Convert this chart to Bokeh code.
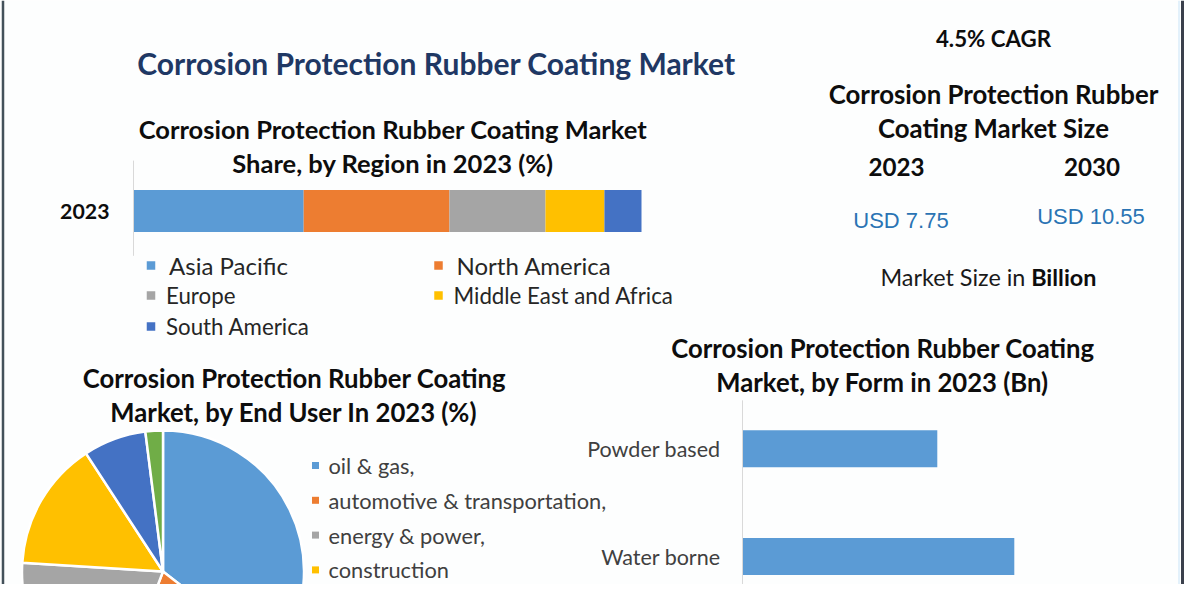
import math
from bokeh.plotting import figure
from bokeh.models import Range1d, ColumnDataSource
from bokeh.embed import file_html
from bokeh.resources import INLINE
from bokeh.core.properties import value

# ---------------- data ----------------
main_title = "Corrosion Protection Rubber Coating Market"

region_title = ["Corrosion Protection Rubber Coating Market", "Share, by Region in 2023 (%)"]
region_year = "2023"
region_names = ["Asia Pacific", "North America", "Europe", "Middle East and Africa", "South America"]
region_share = [33.5, 28.7, 18.9, 11.6, 7.3]
region_colors = ["#5b9bd5", "#ed7d31", "#a5a5a5", "#ffc000", "#4472c4"]

enduser_title = ["Corrosion Protection Rubber Coating", "Market, by End User In 2023 (%)"]
enduser_names = ["oil & gas,", "automotive & transportation,", "energy & power,", "construction"]
enduser_share = [35.5, 20.3, 20.2, 14.8, 7.2, 2.0]
enduser_colors = ["#5b9bd5", "#ed7d31", "#a5a5a5", "#ffc000", "#4472c4", "#70ad47"]

form_title = ["Corrosion Protection Rubber Coating", "Market, by Form in 2023 (Bn)"]
form_names = ["Powder based", "Water borne"]
form_values = [2.15, 3.0]

cagr_label = "4.5% CAGR"
size_title = ["Corrosion Protection Rubber", "Coating Market Size"]
size_years = ["2023", "2030"]
size_values = [7.75, 10.55]
size_unit = ["Market Size in ", "Billion"]

# ---------------- canvas ----------------
W, H = 1184, 584
FONT = "Lato"
BG = "#fdfefe"

p = figure(width=W, height=H, x_range=Range1d(0, W), y_range=Range1d(H, 0),
           output_backend="svg", toolbar_location=None, min_border=0,
           x_axis_location=None, y_axis_location=None)
p.grid.visible = False
p.outline_line_color = None
p.background_fill_color = BG
p.border_fill_color = BG


def fit(v0, p0, v1, p1, size):
    k = (p1 - p0) / (v1 - v0)
    s = v0 - p0 / k
    return Range1d(start=s, end=s + size / k)


def fit_x(v0, x0, v1, x1):
    return fit(v0, x0, v1, x1, W)


def fit_y(v0, y0, v1, y1):
    return fit(v0, H - y0, v1, H - y1, H)


p.extra_x_ranges = {
    "share": fit_x(0, 133, 100, 641),
    "pie": fit_x(0, 162.5, 1, 303.5),
    "form": fit_x(0, 742, 1, 742 + 90.6),
}
p.extra_y_ranges = {
    "share": fit_y(0, 210.5, 1, 280.5),
    "pie": fit_y(0, 571, 1, 430),
    "form": fit_y(0, 448.3, 1, 556),
}


def txt(x, y, s, size, bold=False, color="#0d0d0d", align="center", font=FONT,
        xr="default", yr="default"):
    p.text(x=[x], y=[y], text=[s], text_font=value(font), text_font_size=f"{size}px",
           text_font_style="bold" if bold else "normal", text_color=color,
           text_align=align, text_baseline="middle", x_range_name=xr, y_range_name=yr)


# ---------------- borders ----------------
p.segment(x0=[2.5], y0=[0], x1=[2.5], y1=[H], line_color="#44515a", line_width=2.5)
p.segment(x0=[1178.5], y0=[0], x1=[1178.5], y1=[H], line_color="#e3f1fb", line_width=2)
p.segment(x0=[1182], y0=[0], x1=[1182], y1=[H], line_color="#3b404c", line_width=3)

# ---------------- top-left: region share ----------------
txt(436, 62, main_title, 30, bold=True, color="#1f3864")
txt(392.5, 128, region_title[0], 25.5, bold=True)
txt(392.5, 162, region_title[1], 25.5, bold=True)

lefts, acc = [], 0.0
for v in region_share:
    lefts.append(acc)
    acc += v
rights = [l + v for l, v in zip(lefts, region_share)]
src = ColumnDataSource(dict(y=[0] * len(region_share), left=lefts, right=rights, color=region_colors))
p.hbar(y="y", left="left", right="right", height=0.6, fill_color="color", line_color=None,
       source=src, x_range_name="share", y_range_name="share")
p.segment(x0=[0], y0=[-0.72], x1=[0], y1=[0.64], line_color="#d9d9d9", line_width=1,
          x_range_name="share", y_range_name="share")
txt(109, 0, region_year, 21.3, bold=True, align="right", yr="share")

sq_x = [150.5, 438]
row_y = [265, 295, 326]
row_font = [24, 22.3, 22.3]
row_gap = [18, 15, 15]
for i, (name, col) in enumerate(zip(region_names, region_colors)):
    r = i // 2
    cx = sq_x[i % 2]
    cy = row_y[r]
    p.scatter(x=[cx], y=[cy], marker="square", size=8.5, fill_color=col, line_color=None)
    txt(cx + row_gap[r], cy, name, row_font[r], color="#262626", align="left")

# ---------------- top-right: market size ----------------
txt(993, 38, cagr_label, 22.3, bold=True)
txt(993, 93, size_title[0], 25.8, bold=True)
txt(993, 127, size_title[1], 25.8, bold=True)
yr_x = [896, 1091.5]
val_x = [900.5, 1090.5]
val_y = [220, 216]
for i, yv in enumerate(size_years):
    txt(yr_x[i], 166, yv, 24.2, bold=True)
    txt(val_x[i], val_y[i], f"USD {size_values[i]:.2f}", 22, color="#2a74b4",
        font="Liberation Sans")
txt(880, 276, size_unit[0], 23.4, color="#1a1a1a", align="left")
txt(1096, 276, size_unit[1], 23.4, bold=True, align="right")

# ---------------- bottom-left: end user pie ----------------
txt(294, 377, enduser_title[0], 25.7, bold=True)
txt(293.5, 411, enduser_title[1], 25.7, bold=True)

total = sum(enduser_share)
starts, ends, acc = [], [], 0.0
for v in enduser_share:
    starts.append(math.pi / 2 - 2 * math.pi * acc / total)
    acc += v
    ends.append(math.pi / 2 - 2 * math.pi * acc / total)
psrc = ColumnDataSource(dict(start=starts, end=ends, color=enduser_colors))
p.wedge(x=0, y=0, radius=1, start_angle="start", end_angle="end", direction="clock",
        fill_color="color", line_color="white", line_width=2.5, source=psrc,
        x_range_name="pie", y_range_name="pie")

for i, name in enumerate(enduser_names):
    ly = 465 + 34.8 * i
    p.scatter(x=[315], y=[ly], marker="square", size=7, fill_color=enduser_colors[i], line_color=None)
    txt(328, ly, name, 21.8, color="#404040", align="left")

# ---------------- bottom-right: by form ----------------
txt(882.5, 347, form_title[0], 25.7, bold=True)
txt(882, 381, form_title[1], 25.7, bold=True)

fsrc = ColumnDataSource(dict(y=list(range(len(form_names))), right=form_values,
                             left=[0] * len(form_values)))
p.hbar(y="y", left="left", right="right", height=0.343, fill_color="#5b9bd5", line_color=None,
       source=fsrc, x_range_name="form", y_range_name="form")
p.segment(x0=[0], y0=[-0.45], x1=[0], y1=[len(form_names) - 0.4], line_color="#d9d9d9",
          line_width=1, x_range_name="form", y_range_name="form")
for i, name in enumerate(form_names):
    txt(720, i, name, 21.5, color="#404040", align="right", yr="form")

open("out.html", "w").write(file_html(p, INLINE))
